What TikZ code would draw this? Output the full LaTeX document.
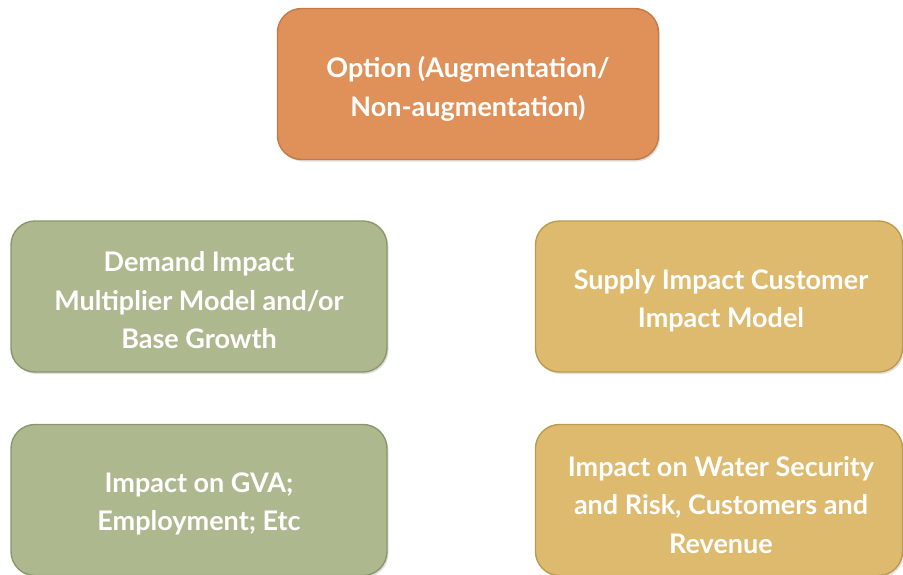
\documentclass[tikz,border=0pt]{standalone}
\usepackage{fontspec}
\setmainfont{Lato}
\usetikzlibrary{shadows}

\definecolor{optfill}{RGB}{224,145,90}
\definecolor{optline}{RGB}{196,122,70}
\definecolor{demfill}{RGB}{173,184,143}
\definecolor{demline}{RGB}{138,150,108}
\definecolor{supfill}{RGB}{221,186,110}
\definecolor{supline}{RGB}{188,155,80}

\tikzset{
box/.style={rounded corners=24pt, line width=1.4pt, align=center,
  text=white, font=\bfseries\fontsize{27}{38.5}\selectfont, inner sep=0pt,
  minimum height=151pt,
  drop shadow={shadow xshift=1.5pt, shadow yshift=-2pt, opacity=0.25}},
optbox/.style={box, draw=optline, fill=optfill, minimum width=381pt},
dembox/.style={box, draw=demline, fill=demfill, minimum width=376pt},
supbox/.style={box, draw=supline, fill=supfill, minimum width=367pt},
boxtext/.style={align=center, text=white, font=\bfseries\fontsize{27}{38.5}\selectfont, inner sep=0pt}}

\begin{document}
\begin{tikzpicture}[x=1pt,y=1pt,yscale=-1,xscale=1]
\useasboundingbox (0,0) rectangle (903,574);

% Option
\node [optbox] (option) at (468,84) {};
\node [boxtext] (option text) at (468,89) {Option (Augmentation/\\Non-augmentation)};
% Demand side
\node [dembox] (demand) at (199,296.5) {};
\node [boxtext] (demand text) at (199,300.5) {Demand Impact\\Multiplier Model and/or\\Base Growth};
\node [dembox] (gva) at (199,500) {};
\node [boxtext] (gva text) at (199,504) {Impact on GVA;\\Employment; Etc};
% Supply side
\node [supbox] (supply) at (719,296.5) {};
\node [boxtext] (supply text) at (721,300.5) {Supply Impact Customer\\Impact Model};
\node [supbox] (water) at (719,500) {};
\node [boxtext] (water text) at (721,505) {Impact on Water Security\\and Risk, Customers and\\Revenue};

\end{tikzpicture}
\end{document}
